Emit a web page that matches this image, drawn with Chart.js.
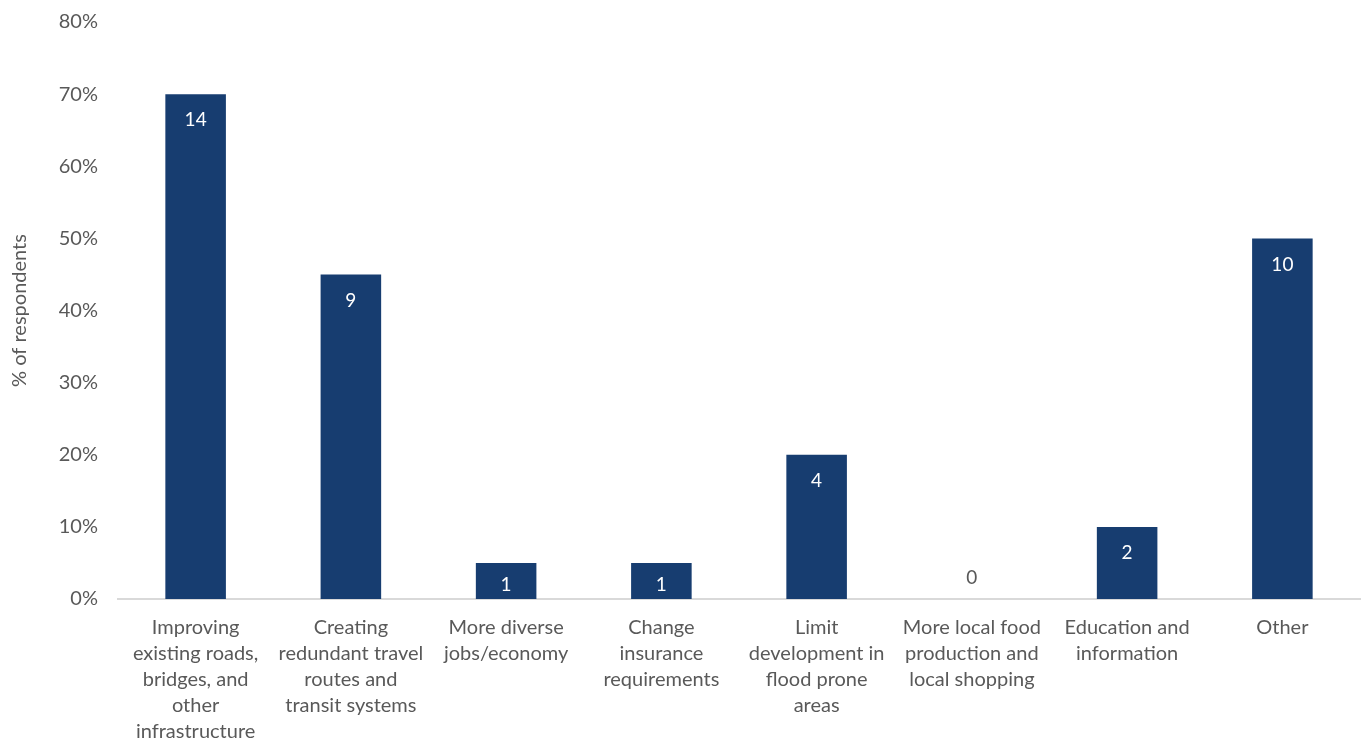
<!DOCTYPE html>
<html>
<head>
<meta charset="utf-8">
<script src="https://cdn.jsdelivr.net/npm/chart.js@4"></script>
<style>
  html, body { margin: 0; padding: 0; background: #fff; }
</style>
</head>
<body>
<canvas id="myChart" width="1361" height="742"></canvas>
<script>
const categories = [
  ["Improving", "existing roads,", "bridges, and", "other", "infrastructure"],
  ["Creating", "redundant travel", "routes and", "transit systems"],
  ["More diverse", "jobs/economy"],
  ["Change", "insurance", "requirements"],
  ["Limit", "development in", "flood prone", "areas"],
  ["More local food", "production and", "local shopping"],
  ["Education and", "information"],
  ["Other"]
];
const percents = [70, 45, 5, 5, 20, 0, 10, 50];
const counts = [14, 9, 1, 1, 4, 0, 2, 10];

const textGray = "#595959";
const barBlue = "#173d70";

// count labels inside the top of each bar
const countLabels = {
  id: "countLabels",
  afterDatasetsDraw(chart) {
    const ctx = chart.ctx;
    const meta = chart.getDatasetMeta(0);
    ctx.save();
    ctx.font = "19px Lato";
    ctx.textAlign = "center";
    ctx.textBaseline = "middle";
    meta.data.forEach((bar, i) => {
      const top = bar.y, base = bar.base;
      if (counts[i] === 0) {
        ctx.fillStyle = textGray;
        ctx.fillText(counts[i], bar.x, base - 21);
      } else {
        ctx.fillStyle = "#ffffff";
        ctx.fillText(counts[i], bar.x, Math.min(top + 26, (top + base) / 2 + 4));
      }
    });
    ctx.restore();
  }
};

new Chart("myChart", {
  type: "bar",
  data: {
    labels: categories,
    datasets: [{
      data: percents,
      backgroundColor: barBlue,
      barPercentage: 0.39,
      categoryPercentage: 1.0
    }]
  },
  options: {
    responsive: false,
    animation: false,
    layout: { padding: { top: 0, right: 1, left: 0, bottom: 0 } },
    plugins: {
      legend: { display: false },
      tooltip: { enabled: false }
    },
    scales: {
      x: {
        grid: { display: false, drawTicks: false },
        border: { display: true, color: "#d9d9d9", width: 2 },
        ticks: {
          color: textGray,
          font: { family: "Lato", size: 20, lineHeight: 1.3 },
          padding: 16,
          maxRotation: 0,
          autoSkip: false
        },
        afterFit(scale) { scale.height = 143; }
      },
      y: {
        min: 0,
        max: 80,
        grid: { display: false, drawTicks: false },
        border: { display: false },
        ticks: {
          stepSize: 10,
          color: textGray,
          font: { family: "Lato", size: 20 },
          padding: 20,
          callback: v => v + "%"
        },
        title: {
          display: true,
          text: "% of respondents",
          color: textGray,
          font: { family: "Lato", size: 20 },
          padding: { top: 8, bottom: 0 }
        },
        afterFit(scale) {
          scale.width = 118;
          scale.paddingTop = 22;
        }
      }
    }
  },
  plugins: [countLabels]
});
</script>
</body>
</html>
